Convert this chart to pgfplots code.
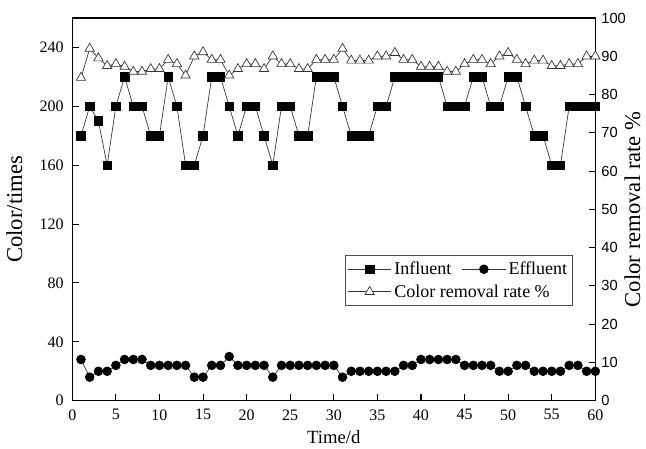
\documentclass[border=0pt]{standalone}
\usepackage{fontspec}
\setmainfont{Liberation Serif}
\setsansfont{Liberation Sans}
\usepackage{pgfplots}
\pgfplotsset{compat=1.18}
\usepackage{pgfplotstable}

% day, influent colour, effluent colour, removal rate (%)
\pgfplotstableread{
day inf eff rate
1  180 28 84.4
2  200 16 92.0
3  190 20 89.5
4  160 20 87.5
5  200 24 88.0
6  220 28 87.3
7  200 28 86.0
8  200 28 86.0
9  180 24 86.7
10 180 24 86.7
11 220 24 89.1
12 200 24 88.0
13 160 24 85.0
14 160 16 90.0
15 180 16 91.1
16 220 24 89.1
17 220 24 89.1
18 200 30 85.0
19 180 24 86.7
20 200 24 88.0
21 200 24 88.0
22 180 24 86.7
23 160 16 90.0
24 200 24 88.0
25 200 24 88.0
26 180 24 86.7
27 180 24 86.7
28 220 24 89.1
29 220 24 89.1
30 220 24 89.1
31 200 16 92.0
32 180 20 88.9
33 180 20 88.9
34 180 20 88.9
35 200 20 90.0
36 200 20 90.0
37 220 20 90.9
38 220 24 89.1
39 220 24 89.1
40 220 28 87.3
41 220 28 87.3
42 220 28 87.3
43 200 28 86.0
44 200 28 86.0
45 200 24 88.0
46 220 24 89.1
47 220 24 89.1
48 200 24 88.0
49 200 20 90.0
50 220 20 90.9
51 220 24 89.1
52 200 24 88.0
53 180 20 88.9
54 180 20 88.9
55 160 20 87.5
56 160 20 87.5
57 200 24 88.0
58 200 24 88.0
59 200 20 90.0
60 200 20 90.0
}\data

\pgfplotsset{
  base/.style={
    scale only axis, width=392.25pt, height=287pt,
    xmin=0, xmax=60,
    tick align=inside, major tick length=5pt,
    axis line style={line width=0.9pt},
    tick style={line width=0.8pt, black},
    /pgf/number format/assume math mode=true,
    clip=false,
  },
  ser/.style={black!80, line width=0.5pt, mark options={solid, black}},
}

\begin{document}
\begin{tikzpicture}
\begin{axis}[base,
  ymin=0, ymax=260,
  xtick={0,5,...,60}, ytick={0,40,...,240},
  xtick pos=bottom, ytick pos=left,
  ticklabel style={font=\fontsize{12}{14}\selectfont},
  xticklabel style={yshift=-3pt},
  yticklabel style={xshift=-3pt},
  xlabel={Time/d}, ylabel={Color/times},
  xlabel style={font=\fontsize{14}{16}\selectfont, yshift=-1pt},
  ylabel style={font=\fontsize{17}{19}\selectfont, yshift=6pt},
]
\addplot[ser, mark=square*, mark size=3.2pt] table[x=day, y=inf] {\data};
\addplot[ser, mark=*, mark size=3.3pt] table[x=day, y=eff] {\data};
\coordinate (ll) at (rel axis cs:0,0);
\coordinate (ur) at (rel axis cs:1,1);
\end{axis}

\begin{axis}[base,
  ymin=0, ymax=100,
  hide x axis, axis y line*=right,
  ytick={0,10,...,100},
  yticklabel style={font=\sffamily\fontsize{11}{13}\selectfont, xshift=1pt},
  ylabel={Color removal rate \%},
  ylabel style={font=\fontsize{17}{19}\selectfont, yshift=8pt},
  legend image code/.code={\draw[mark repeat=2, mark phase=2]
    plot coordinates {(0cm,0cm) (0.57cm,0cm) (1.14cm,0cm)};},
  legend columns=2,
  legend cell align=left,
  legend style={at={(0.957,0.381)}, anchor=north east,
    draw=black!70, line width=0.5pt, inner xsep=2pt, inner ysep=3pt,
    row sep=2pt,
    font=\fontsize{13.5}{16}\selectfont,
    /tikz/every even column/.append style={column sep=6pt}},
]
\addlegendimage{ser, mark=square*, mark size=3.2pt}
\addlegendentry{Influent}
\addlegendimage{ser, mark=*, mark size=3.3pt}
\addlegendentry{Effluent}
\addplot[ser, mark=triangle*, mark size=4pt, mark options={fill=white, line width=0.5pt}]
  table[x=day, y=rate] {\data};
\addlegendentry{\makebox[0pt][l]{Color removal rate \%}}
\end{axis}
\pgfresetboundingbox
\path ([shift={(-54.2pt,-36pt)}]ll) rectangle ([shift={(38pt,13.5pt)}]ur);
\end{tikzpicture}
\end{document}
